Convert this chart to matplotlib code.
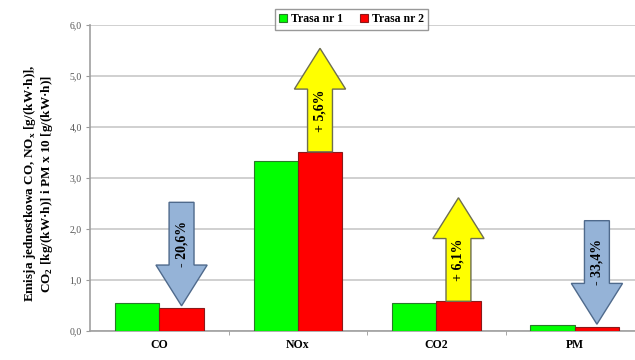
import numpy as np
import matplotlib
matplotlib.use('Agg')
from matplotlib import pyplot as plt
from matplotlib.patches import FancyArrow

plt.rcParams['font.family'] = ['Liberation Serif', 'DejaVu Serif']

categories = ['CO', 'NOx', 'CO2', 'PM']
trasa_1 = [0.55, 3.33, 0.55, 0.12]
trasa_2 = [0.44, 3.51, 0.58, 0.08]
changes = ['- 20,6%', '+ 5,6%', '+ 6,1%', '- 33,4%']
yticks = [0.0, 1.0, 2.0, 3.0, 4.0, 5.0, 6.0]

fig = plt.figure(figsize=(6.35, 3.6), dpi=100)
ax = fig.add_axes([0.142, 0.081, 0.858, 0.850])

x = np.arange(len(categories))
w = 0.32
ax.bar(x - w / 2, trasa_1, w, color='#00ff00', edgecolor='#2a7a2a', linewidth=0.8,
       label='Trasa nr 1', zorder=3)
ax.bar(x + w / 2, trasa_2, w, color='#ff0000', edgecolor='#8a1a1a', linewidth=0.8,
       label='Trasa nr 2', zorder=3)

# arrows showing the change between routes, drawn above the red bars
arrow_len = 2.03
head_len = 0.8
for i, (a, b, txt) in enumerate(zip(trasa_1, trasa_2, changes)):
    xc = x[i] + w / 2
    if b >= a:
        y0, dy = b, arrow_len
        face, edge = '#ffff00', '#6e6e50'
    else:
        y0, dy = b + 0.05 + arrow_len, -arrow_len
        face, edge = '#95b3d7', '#4f6a8c'
    arr = FancyArrow(xc, y0, 0, dy, width=0.18, head_width=0.37, head_length=head_len,
                     length_includes_head=True, facecolor=face, edgecolor=edge,
                     linewidth=1.0, zorder=4)
    ax.add_patch(arr)
    ax.text(xc, y0 + 0.4 * dy, txt, rotation=90, ha='center', va='center',
            fontsize=10, fontweight='bold', zorder=5)

ax.set_xlim(-0.5, 3.435)
ax.set_ylim(0, 6)
ax.set_yticks(yticks)
ax.set_yticklabels([('%.1f' % v).replace('.', ',') for v in yticks],
                   fontsize=7, color='#555555')
ax.set_xticks(x)
ax.set_xticklabels(categories, fontsize=8.5, fontweight='bold')
ax.set_xticks(x[:-1] + 0.5, minor=True)
ax.tick_params(axis='x', which='major', length=0, pad=6)
ax.tick_params(axis='x', which='minor', length=3, color='#999999')
ax.tick_params(axis='y', length=3, color='#999999', pad=3)

ax.grid(axis='y', color='#c8c8c8', linewidth=1.2, zorder=0)
for s in ['top', 'right']:
    ax.spines[s].set_visible(False)
for s in ['left', 'bottom']:
    ax.spines[s].set_color('#a0a0a0')
    ax.spines[s].set_linewidth(1.2)

fig.text(0.06, 0.49,
         'Emisja jednostkowa CO, NO$_\\mathregular{x}$ [g/(kW·h)],\n'
         'CO$_\\mathregular{2}$ [kg/(kW·h)] i PM x 10 [g/(kW·h)]',
         rotation=90, ha='center', va='center', fontsize=9.5, fontweight='bold',
         multialignment='center', linespacing=1.1)

leg = ax.legend(loc='upper center', bbox_to_anchor=(0.48, 1.07), ncol=2,
                fontsize=8.5, frameon=True, fancybox=False, handlelength=0.7,
                handleheight=0.7, columnspacing=1.4, handletextpad=0.35,
                borderpad=0.35)
leg.get_frame().set_edgecolor('#808080')
for t in leg.get_texts():
    t.set_fontweight('bold')

fig.savefig('out.png', dpi=100)
